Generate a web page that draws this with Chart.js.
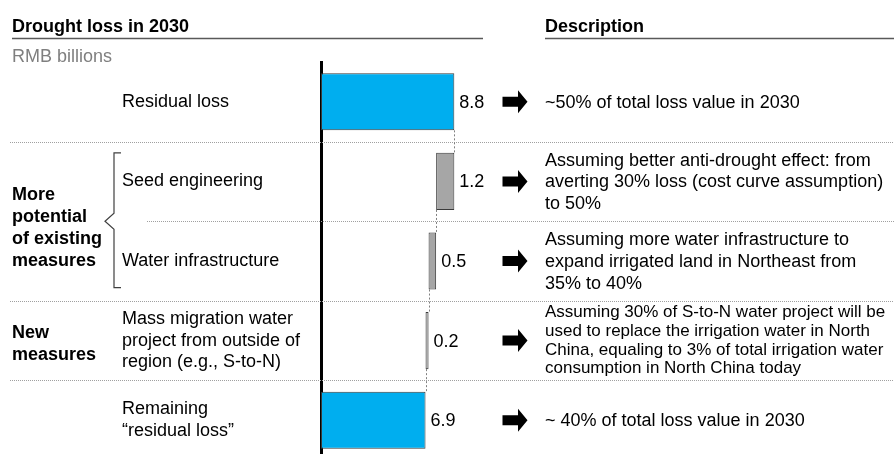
<!DOCTYPE html>
<html>
<head>
<meta charset="utf-8">
<script src="https://cdn.jsdelivr.net/npm/chart.js@4.4.1/dist/chart.umd.min.js"></script>
<style>
html,body{margin:0;padding:0;overflow:hidden;background:#fff;}
#wrap{width:894px;height:462px;position:relative;}
</style>
</head>
<body>
<div id="wrap"><canvas id="c" width="894" height="462"></canvas></div>
<script>
// ---- data ----
const categories = [
  ["Residual loss"],
  ["Seed engineering"],
  ["Water infrastructure"],
  ["Mass migration water", "project from outside of", "region (e.g., S-to-N)"],
  ["Remaining", "\u201Cresidual loss\u201D"]
];
const values = [8.8, 1.2, 0.5, 0.2, 6.9];
const stepTypes = ["total", "delta", "delta", "delta", "total"];
const valueLabels = ["8.8", "1.2", "0.5", "0.2", "6.9"];
const descriptions = [
  ["~50% of total loss value in 2030"],
  ["Assuming better anti-drought effect: from", "averting 30% loss (cost curve assumption)", "to 50%"],
  ["Assuming more water infrastructure to", "expand irrigated land in Northeast from", "35% to 40%"],
  ["Assuming 30% of S-to-N water project will be", "used to replace the irrigation water in North", "China, equaling to 3% of total irrigation water", "consumption in North China today"],
  ["~ 40% of total loss value in 2030"]
];
const groupLabels = [
  { lines: ["More", "potential", "of existing", "measures"], rows: [1, 2] },
  { lines: ["New", "measures"], rows: [3] }
];
const chartTitle = "Drought loss in 2030";
const unitLabel = "RMB billions";
const descTitle = "Description";

// floating ranges built from the values
let running = 0;
const ranges = values.map((v, i) => {
  if (stepTypes[i] === "total") { running = v; return [0, v]; }
  const r = [running - v, running]; running -= v; return r;
});
const totalsAfter = [];
{ let r = 0; values.forEach((v, i) => { r = stepTypes[i] === "total" ? v : r - v; totalsAfter.push(r); }); }

const FONT = '"Liberation Sans", Arial, Helvetica, sans-serif';
const BLUE = "#00AEEF";
const GREY = "#A6A6A6";

function lines(ctx, arr, x, cy, lh) {
  const n = arr.length;
  arr.forEach((t, k) => ctx.fillText(t, x, cy + (k - (n - 1) / 2) * lh));
}

const decor = {
  id: "decor",
  beforeDatasetsDraw(chart) {
    const ctx = chart.ctx, ys = chart.scales.y, xs = chart.scales.x;
    const meta = chart.getDatasetMeta(0).data;
    const c = categories.map((_, i) => ys.getPixelForValue(i));
    ctx.save();
    // row separators
    ctx.strokeStyle = "#a0a0a0"; ctx.lineWidth = 1; ctx.setLineDash([1, 1]);
    for (let i = 0; i < c.length - 1; i++) {
      const y = Math.round((c[i] + c[i + 1]) / 2) + 0.5;
      const x0 = i === 1 ? 147 : 10;
      ctx.beginPath(); ctx.moveTo(x0, y); ctx.lineTo(894, y); ctx.stroke();
    }
    // connectors
    ctx.strokeStyle = "#808080"; ctx.setLineDash([2, 2]);
    for (let i = 0; i < c.length - 1; i++) {
      const x = Math.round(xs.getPixelForValue(totalsAfter[i])) + 0.5;
      const y0 = meta[i].y + meta[i].height / 2, y1 = meta[i + 1].y - meta[i + 1].height / 2;
      ctx.beginPath(); ctx.moveTo(x, y0); ctx.lineTo(x, y1); ctx.stroke();
    }
    ctx.restore();
  },
  afterDraw(chart) {
    const ctx = chart.ctx, ys = chart.scales.y, xs = chart.scales.x;
    const meta = chart.getDatasetMeta(0).data;
    const c = categories.map((_, i) => ys.getPixelForValue(i));
    ctx.save();
    // headers
    ctx.fillStyle = "#000"; ctx.textBaseline = "alphabetic"; ctx.textAlign = "left";
    ctx.font = "bold 18px " + FONT;
    ctx.fillText(chartTitle, 12, 31.5);
    ctx.fillText(descTitle, 545, 31.5);
    ctx.strokeStyle = "#595959"; ctx.lineWidth = 1.3;
    ctx.beginPath(); ctx.moveTo(12, 38.5); ctx.lineTo(483, 38.5); ctx.stroke();
    ctx.beginPath(); ctx.moveTo(545, 38.5); ctx.lineTo(894, 38.5); ctx.stroke();
    ctx.font = "18px " + FONT; ctx.fillStyle = "#7f7f7f";
    ctx.fillText(unitLabel, 12, 61.5);

    // value labels
    ctx.fillStyle = "#000"; ctx.textBaseline = "middle";
    ctx.font = "18px " + FONT;
    ranges.forEach((r, i) => {
      ctx.fillText(valueLabels[i], xs.getPixelForValue(Math.max(r[0], r[1])) + 5, c[i] + 1);
    });
    // arrows
    c.forEach(cy => {
      ctx.beginPath();
      ctx.moveTo(502.5, cy - 5); ctx.lineTo(518, cy - 5); ctx.lineTo(518, cy - 11.5);
      ctx.lineTo(527.5, cy); ctx.lineTo(518, cy + 11.5); ctx.lineTo(518, cy + 5);
      ctx.lineTo(502.5, cy + 5); ctx.closePath(); ctx.fill();
    });
    // descriptions
    descriptions.forEach((d, i) => {
      if (d.length === 4) { ctx.font = "17px " + FONT; lines(ctx, d, 545, c[i], 18.7); }
      else { ctx.font = "18px " + FONT; lines(ctx, d, 545, c[i] + 1, 21.7); }
    });
    // group labels
    ctx.font = "bold 18px " + FONT;
    groupLabels.forEach(g => {
      const cy = g.rows.reduce((s, r) => s + c[r], 0) / g.rows.length;
      lines(ctx, g.lines, 12, cy + (g.rows.length > 1 ? 7 : 3), 22);
    });
    // bracket for the first group
    const g = groupLabels[0];
    const top = meta[g.rows[0]].y - meta[g.rows[0]].height / 2;
    const bot = meta[g.rows[g.rows.length - 1]].y + meta[g.rows[g.rows.length - 1]].height / 2 - 2;
    const mid = (c[g.rows[0]] + c[g.rows[g.rows.length - 1]]) / 2;
    ctx.strokeStyle = "#404040"; ctx.lineWidth = 1.2;
    ctx.beginPath();
    ctx.moveTo(121, top); ctx.lineTo(114, top); ctx.lineTo(114, mid - 8);
    ctx.lineTo(105, mid); ctx.lineTo(114, mid + 8); ctx.lineTo(114, bot); ctx.lineTo(121, bot);
    ctx.stroke();
    ctx.restore();
  }
};

new Chart(document.getElementById("c"), {
  type: "bar",
  data: {
    labels: categories,
    datasets: [{
      data: ranges,
      backgroundColor: stepTypes.map(t => t === "total" ? BLUE : GREY),
      borderColor: "#3a3a3a",
      borderWidth: 1,
      borderSkipped: false,
      barPercentage: 0.717,
      categoryPercentage: 1
    }]
  },
  options: {
    indexAxis: "y",
    responsive: false,
    animation: false,
    layout: { padding: { left: 122, top: 62, right: 421.5, bottom: 2 } },
    plugins: { legend: { display: false }, tooltip: { enabled: false } },
    scales: {
      x: { display: false, min: 0, max: 10 },
      y: {
        position: "left",
        grid: { display: false, drawTicks: false },
        border: { display: true, color: "#000", width: 3 },
        ticks: {
          crossAlign: "far", padding: 0, color: "#000",
          font: { family: FONT, size: 18, lineHeight: 1.2 }
        },
        afterFit(scale) { scale.width = 199; scale.paddingTop = 0; scale.paddingBottom = 0; }
      }
    }
  },
  plugins: [decor]
});
</script>
</body>
</html>
